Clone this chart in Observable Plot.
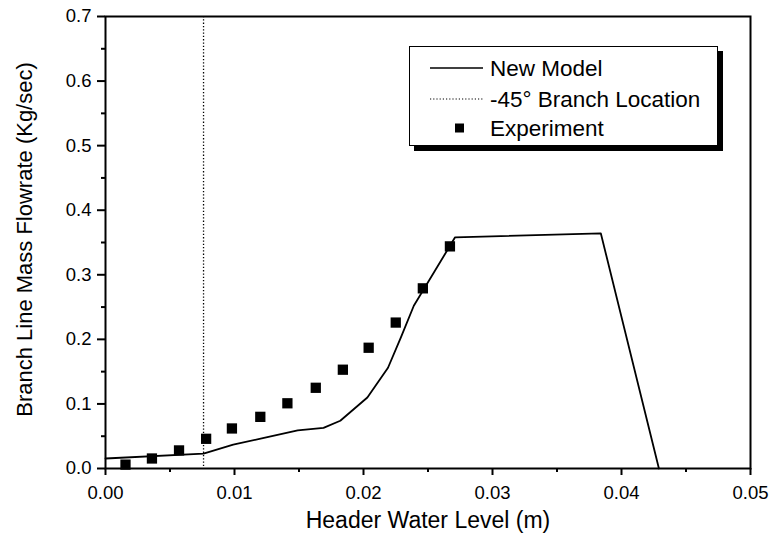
<!DOCTYPE html>
<html><head><meta charset="utf-8">
<script src="https://cdn.jsdelivr.net/npm/d3@7"></script>
<script src="https://cdn.jsdelivr.net/npm/@observablehq/plot@0.6"></script>
<style>
body{margin:0;background:#fff;font-family:"Liberation Sans",Arial,sans-serif;}
#wrap{position:relative;width:770px;height:545px;}
#legend{position:absolute;left:409px;top:46px;width:309px;height:100px;border:1.5px solid #000;box-shadow:5px 5px 0 #000;background:#fff;box-sizing:border-box;}
#legend svg{position:absolute;left:0;top:0;}
</style></head>
<body><div id="wrap"><div id="chart"></div><div id="legend"></div></div>
<script>
// New Model curve
const modelX = [0, 0.0076, 0.0099, 0.0122, 0.0149, 0.0169, 0.0182, 0.0203, 0.0219, 0.0229, 0.0239, 0.0271, 0.0384, 0.0429];
const modelY = [0.0155, 0.023, 0.037, 0.047, 0.059, 0.063, 0.074, 0.110, 0.156, 0.203, 0.252, 0.358, 0.364, 0];
// Experiment points
const expX = [0.00155, 0.0036, 0.0057, 0.0078, 0.0098, 0.0120, 0.0141, 0.0163, 0.0184, 0.0204, 0.0225, 0.0246, 0.0267];
const expY = [0.006, 0.0155, 0.028, 0.046, 0.062, 0.080, 0.101, 0.125, 0.153, 0.187, 0.226, 0.279, 0.344];
// -45 deg branch location
const branchX = [0.0076];
// ticks
const xTicks = [0, 0.01, 0.02, 0.03, 0.04, 0.05];
const xMinor = [0.005, 0.015, 0.025, 0.035, 0.045];
const yTicks = [0, 0.1, 0.2, 0.3, 0.4, 0.5, 0.6, 0.7];
const yMinor = [0.05, 0.15, 0.25, 0.35, 0.45, 0.55, 0.65];
const xLabel = "Header Water Level (m)";
const yLabel = "Branch Line Mass Flowrate (Kg/sec)";
const legendItems = ["New Model", "-45° Branch Location", "Experiment"];

const model = modelX.map((x, i) => ({x, y: modelY[i]}));
const exp = expX.map((x, i) => ({x, y: expY[i]}));
const FONT = '"Liberation Sans", Arial, sans-serif';

const chart = Plot.plot({
  width: 770, height: 545,
  marginLeft: 105, marginRight: 20, marginTop: 16, marginBottom: 77,
  x: {domain: [0, 0.05]},
  y: {domain: [0, 0.7]},
  style: {fontFamily: FONT, fontSize: "18px", color: "#000", background: "#fff"},
  marks: [
    Plot.ruleX(branchX, {stroke: "#000", strokeWidth: 1.3, strokeDasharray: "1.3,2"}),
    Plot.line(model, {x: "x", y: "y", stroke: "#000", strokeWidth: 1.8}),
    Plot.dot(exp, {x: "x", y: "y", symbol: "square", r: 5.8, fill: "#000", stroke: "none"}),
    Plot.frame({stroke: "#000", strokeWidth: 2}),
    Plot.axisX({ticks: xTicks, tickSize: 7, tickPadding: 10, strokeWidth: 2, tickFormat: d3.format(".2f"), label: null, fontSize: 18.5}),
    Plot.axisX({ticks: xMinor, tickSize: 4, strokeWidth: 2, tickFormat: () => "", label: null}),
    Plot.axisY({ticks: yTicks, tickSize: 8, tickPadding: 6, strokeWidth: 2, tickFormat: d3.format(".1f"), label: null, fontSize: 18.5}),
    Plot.axisY({ticks: yMinor, tickSize: 4, strokeWidth: 2, tickFormat: () => "", label: null}),
    Plot.text([xLabel], {frameAnchor: "bottom", dy: 59, fontSize: 23}),
    Plot.text([yLabel], {frameAnchor: "left", textAnchor: "middle", rotate: -90, dx: -81, dy: -3, fontSize: 22})
  ]
});
document.getElementById("chart").appendChild(chart);

// legend
const lg = d3.select("#legend").append("svg").attr("width", 306).attr("height", 97);
const rows = [21, 52, 81];
lg.append("line").attr("x1", 20).attr("x2", 73).attr("y1", rows[0]).attr("y2", rows[0]).attr("stroke", "#000").attr("stroke-width", 1.6);
lg.append("line").attr("x1", 20).attr("x2", 73).attr("y1", rows[1]).attr("y2", rows[1]).attr("stroke", "#000").attr("stroke-width", 1.2).attr("stroke-dasharray", "1.2,2");
lg.append("rect").attr("x", 45).attr("y", rows[2] - 4.5).attr("width", 9).attr("height", 9).attr("fill", "#000");
legendItems.forEach((t, i) => {
  lg.append("text").attr("x", 80).attr("y", rows[i]).attr("dy", "0.35em")
    .attr("font-size", 22.5).attr("font-family", FONT).text(t);
});
</script></body></html>
